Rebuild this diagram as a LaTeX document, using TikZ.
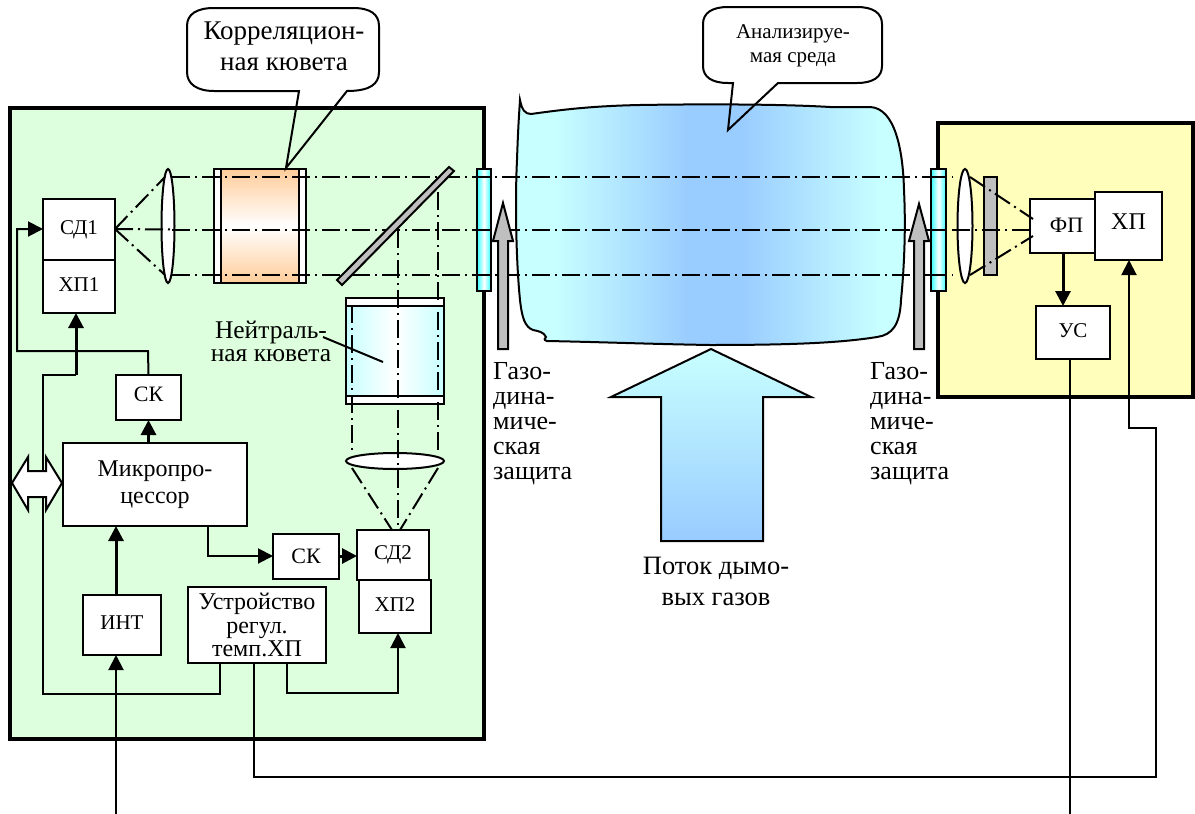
\documentclass[tikz,border=0pt]{standalone}
\usepackage{fontspec}
\setmainfont{Liberation Serif}
\usetikzlibrary{arrows.meta,calc,shapes.geometric}
\definecolor{greenbg}{HTML}{DDFFDD}
\definecolor{yellowbg}{HTML}{FFFFBB}
\definecolor{palecyan}{HTML}{C8FFFF}
\definecolor{skyblue}{HTML}{99CCFF}
\definecolor{brightcyan}{HTML}{33FFFF}
\definecolor{peach}{HTML}{FFCC99}
\definecolor{midgray}{HTML}{BFBFBF}
\newcommand{\fs}[1]{\fontsize{#1}{#1}\selectfont}
\newcommand{\up}[2]{\raisebox{#1pt}{#2}}
\pgfdeclarehorizontalshading{blobshade}{100bp}{color(0bp)=(palecyan); color(30bp)=(palecyan); color(47.4bp)=(skyblue); color(53.8bp)=(skyblue); color(71.8bp)=(palecyan); color(100bp)=(palecyan)}
\tikzset{
  panel/.style={draw=black,line width=4pt},
  blk/.style={draw=black,line width=2pt,fill=white,inner sep=0pt,outer sep=0pt,align=center,anchor=north west,font=\fs{21}},
  conn/.style={draw=black,line width=2pt,line join=miter},
  heavy/.style={draw=black,line width=3pt},
  arrowed/.style={-{Triangle[length=15pt,width=15pt]}},
  beam/.style={draw=black,line width=2pt,dash pattern=on 18pt off 5pt on 2pt off 5pt},
  lens/.style={draw=black,line width=2pt,fill=white},
  window/.style={draw=black,line width=2pt,left color=brightcyan,right color=brightcyan,middle color=white},
  plate/.style={draw=black,line width=2pt,fill=midgray},
  bubble/.style={draw=black,line width=2pt,line join=miter},
  txtlab/.style={inner sep=0pt,align=center},
  gaslabel/.style={inner sep=0pt,align=left,anchor=north west,font=\fs{26},text depth=0pt},
}
\begin{document}
\begin{tikzpicture}[x=1pt,y=-1pt]
\useasboundingbox (0,0) rectangle (1195,814);
\fill[white] (0,0) rectangle (1195,814);
% panels
\draw[panel,fill=greenbg] (10,108) rectangle (484,739);
\draw[panel,fill=yellowbg] (938,123) rectangle (1193,397);
% analysed medium
\path[draw=black,line width=2pt,shading=blobshade]
  (520,100) .. controls (522,110) and (525,114) .. (531,114)
  .. controls (560,110) and (590,106) .. (640,105)
  .. controls (700,104) and (780,104) .. (830,107)
  -- (870,107) .. controls (895,108) and (903,150) .. (904,190)
  .. controls (906,230) and (904,270) .. (901,300)
  .. controls (900,325) and (892,335) .. (877,337)
  .. controls (840,343) and (790,345) .. (710,345)
  .. controls (650,344) and (600,342) .. (547,341)
  .. controls (543,340) and (545,338) .. (546,337)
  .. controls (544,332) and (538,331) .. (533,330)
  .. controls (525,327) and (522,318) .. (520,300)
  .. controls (516,260) and (515,200) .. (517,160)
  .. controls (518,130) and (519,115) .. (520,100) -- cycle;
% blocks
\node[blk,minimum width=72pt,minimum height=61pt] (sd1) at (43,199) {\up{4}{СД1}};
\node[blk,minimum width=72pt,minimum height=53pt] (hp1) at (43,260) {\up{3}{ХП1}};
\node[blk,minimum width=65pt,minimum height=45pt,font=\fs{22}] (sk1) at (116,375) {\up{6}{СК}};
\node[blk,minimum width=184pt,minimum height=83pt,font=\fs{24}] (mp) at (63,443) {Микропро-\\[3pt]цессор};
\node[blk,minimum width=78pt,minimum height=60pt,font=\fs{21}] (int) at (83,595) {\up{4}{ИНТ}};
\node[blk,minimum width=138pt,minimum height=76pt,font=\fs{24}] (usr) at (188,587) {Устройство\\[-0.5pt]регул.\\[-0.5pt]темп.ХП};
\node[blk,minimum width=66pt,minimum height=45pt,font=\fs{22}] (sk2) at (273,534) {\up{-2}{СК}};
\node[blk,minimum width=72pt,minimum height=50pt] (sd2) at (357,530) {\up{-2}{СД2}};
\node[blk,minimum width=72pt,minimum height=53pt] (hp2) at (359,580) {\up{4}{ХП2}};
\node[blk,minimum width=65pt,minimum height=54pt,font=\fs{22}] (fp) at (1030,199) {\hspace*{8pt}\up{2}{ФП}};
\node[blk,minimum width=67pt,minimum height=68pt,font=\fs{24}] (hp) at (1095,192) {\up{8}{ХП}};
\node[blk,minimum width=74pt,minimum height=53pt] (us) at (1036,306) {\up{3}{УС}};
% correlation cell
\node[draw=black,line width=2pt,fill=white,inner sep=0pt,outer sep=0pt,minimum width=92pt,minimum height=114pt,anchor=north west] (cc) at (214,169) {};
\node[draw=black,line width=2pt,top color=peach,bottom color=peach,middle color=white,inner sep=0pt,outer sep=0pt,minimum width=78pt,minimum height=114pt,anchor=north west] (ccin) at (221,169) {};
% neutral cell
\node[draw=black,line width=2pt,fill=white,inner sep=0pt,outer sep=0pt,minimum width=98pt,minimum height=106pt,anchor=north west] (nc) at (346,298) {};
\node[draw=black,line width=2pt,left color=palecyan,right color=palecyan,middle color=white,inner sep=0pt,outer sep=0pt,minimum width=98pt,minimum height=90pt,anchor=north west] (ncin) at (346,306) {};
% lenses
\node[lens,ellipse,inner sep=0pt,minimum width=13pt,minimum height=114pt] (l1) at (168,226) {};
\node[lens,ellipse,inner sep=0pt,minimum width=98pt,minimum height=16pt] (l2) at (395,461) {};
\node[lens,ellipse,inner sep=0pt,minimum width=15pt,minimum height=114pt] (l3) at (965,226) {};
% beam coordinates
\coordinate (bt) at (172,176.5);
\coordinate (bm) at (172,229.5);
\coordinate (bb) at (172,275);
\coordinate (et) at (953,176.5);
\coordinate (em) at (1030,229.5);
\coordinate (eb) at (953,275);
\coordinate (sdo) at (115,229);
\coordinate (fpt) at (1033,219);
\coordinate (fpb) at (1033,236);
\coordinate (rt) at (970,177);
\coordinate (rb) at (970,275);
\coordinate (vm) at (398,229.5);
\coordinate (vl) at (352,305);
\coordinate (vr) at (438,192);
\coordinate (vle) at (352,453);
\coordinate (vre) at (438,453);
\coordinate (ll) at (352,468);
\coordinate (lr) at (438,468);
\coordinate (sdt) at (398,530);
\coordinate (sdl) at (392,530);
\coordinate (sdr) at (400,530);
% plate
\node[plate,inner sep=0pt,outer sep=0pt,minimum width=13pt,minimum height=98pt,anchor=north west] (pl) at (984,177) {};
% beams
\draw[beam] (bt) -- (et);
\draw[beam] (bm) -- (em);
\draw[beam] (bb) -- (eb);
\draw[beam] (sdo) -- (165,177);
\draw[beam] (sdo) -- (bm);
\draw[beam] (sdo) -- (165,275);
\draw[beam] (rt) -- (fpt);
\draw[beam] (rb) -- (fpb);
\draw[beam] (vr) -- (vre);
\draw[beam] (vm) -- (sdt);
\draw[beam] (vl) -- (vle);
\draw[beam] (ll) -- (sdl);
\draw[beam] (lr) -- (sdr);
% mirror and windows
\coordinate (m1) at (337,280);
\coordinate (m2) at (342,285);
\coordinate (m3) at (454,171);
\coordinate (m4) at (449,167);
\draw[plate] (m1) -- (m2) -- (m3) -- (m4) -- cycle;
\node[window,inner sep=0pt,outer sep=0pt,minimum width=14pt,minimum height=122pt,anchor=north west] (w1) at (477,169) {};
\node[window,inner sep=0pt,outer sep=0pt,minimum width=15pt,minimum height=122pt,anchor=north west] (w2) at (931,169) {};
\draw[beam] (w1.west |- bt) -- (w1.east |- bt);
\draw[beam] (w1.west |- bm) -- (w1.east |- bm);
\draw[beam] (w1.west |- bb) -- (w1.east |- bb);
\draw[beam] (w2.west |- bt) -- (w2.east |- bt);
\draw[beam] (w2.west |- bm) -- (w2.east |- bm);
\draw[beam] (w2.west |- bb) -- (w2.east |- bb);
% gas arrows
\draw[plate] (503,203) -- (513,241) -- (508,241) -- (508,349) -- (498,349) -- (498,241) -- (493,241) -- cycle;
\draw[plate] (919,204) -- (929,241) -- (924,241) -- (924,349) -- (914,349) -- (914,241) -- (909,241) -- cycle;
% gas flow arrow
\path[draw=black,line width=2pt,top color=palecyan,bottom color=skyblue]
  (711,349) -- (811,397) -- (763,397) -- (763,541) -- (661,541) -- (661,397) -- (611,397) -- cycle;
% connectors
\coordinate (a17) at (17,351);
\coordinate (a43) at (43,375);
\coordinate (a76) at (76,375);
\coordinate (a148) at (148,351);
\coordinate (s229) at (17,229);
\draw[conn,arrowed] (sk1.north) -- (a148) -- (a17) -- (s229) -- (sd1.west |- s229);
\draw[heavy,arrowed] (a76) -- (hp1.south -| a76);
\coordinate (b220) at (220,694);
\draw[conn] (a76) -- (a43) -- (43,694) -- (b220) -- (usr.south -| b220);
\draw[heavy,arrowed] (mp.north -| sk1.south) -- (sk1.south);
\coordinate (ib) at (116,814);
\draw[heavy,arrowed] (int.north -| ib) -- (mp.south -| ib);
\draw[conn,arrowed] (ib) -- (int.south -| ib);
\coordinate (c208) at (208,556);
\draw[conn,arrowed] (mp.south -| c208) -- (c208) -- (sk2.west |- c208);
\draw[heavy,arrowed] (sk2.east |- c208) -- (sd2.west |- c208);
\coordinate (d287) at (287,693);
\coordinate (d398) at (398,693);
\draw[conn,arrowed] (usr.south -| d287) -- (d287) -- (d398) -- (hp2.south -| d398);
\coordinate (e254) at (254,777);
\coordinate (e1156) at (1156,777);
\coordinate (e428) at (1156,428);
\coordinate (e1130) at (1129,428);
\draw[conn,arrowed] (usr.south -| e254) -- (e254) -- (e1156) -- (e428) -- (e1130) -- (hp.south -| e1130);
\coordinate (f1063) at (1063,306);
\draw[heavy,arrowed] (fp.south -| f1063) -- (f1063);
\coordinate (g1070) at (1070,814);
\draw[conn] (us.south -| g1070) -- (g1070);
% bus arrow
\draw[draw=black,line width=2pt,fill=white] (12,483) -- (28,457) -- (28,471) -- (46,471) -- (46,457) -- (62,483) -- (46,510) -- (46,497) -- (28,497) -- (28,510) -- cycle;
% callouts
\draw[bubble] (214,8) -- (353,8) .. controls (370,8) and (379,14) .. (379,26) -- (379,72)
  .. controls (379,84) and (370,91) .. (347,91) -- (286,168) -- (299,91)
  -- (214,91) .. controls (197,91) and (187,84) .. (187,72) -- (187,26)
  .. controls (187,14) and (197,8) .. (214,8) -- cycle;
\draw[bubble] (728,7) -- (857,7) .. controls (873,7) and (882,13) .. (882,24) -- (882,66)
  .. controls (882,77) and (873,83) .. (857,83) -- (778,83) -- (728,130) -- (733,83)
  -- (728,83) .. controls (712,83) and (703,77) .. (703,66) -- (703,24)
  .. controls (703,13) and (712,7) .. (728,7) -- cycle;
\node[txtlab,font=\fs{27}] (t1) at (284,46) {Корреляцион-\\[4pt]ная кювета};
\node[txtlab,font=\fs{21}] (t2) at (793,46) {Анализируе-\\[3pt]мая среда};
% labels
\node[txtlab,font=\fs{25.5}] (t3) at (271,341) {Нейтраль-\\[-2.5pt]ная кювета};
\coordinate (ln) at (383,362);
\draw[line width=2pt] (323,337) -- (ln);
\node[gaslabel] (g1) at (493,362) {Газо-\\[-1pt]дина-\\[-1pt]миче-\\[-1pt]ская\\[-1pt]защита};
\node[gaslabel] (g2) at (870,362) {Газо-\\[-1pt]дина-\\[-1pt]миче-\\[-1pt]ская\\[-1pt]защита};
\node[txtlab,font=\fs{26.5}] (t4) at (716,581) {Поток дымо-\\[4.5pt]вых газов};
\end{tikzpicture}
\end{document}
